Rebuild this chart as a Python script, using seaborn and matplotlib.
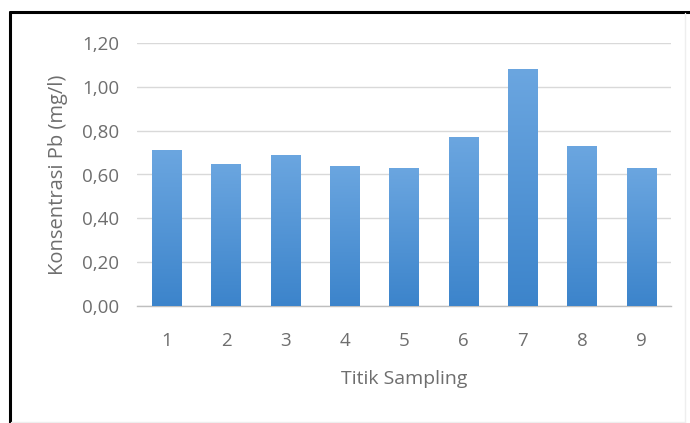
import numpy as np
import pandas as pd
import matplotlib
matplotlib.use("Agg")
import matplotlib.pyplot as plt
from matplotlib.lines import Line2D
from matplotlib.colors import LinearSegmentedColormap
import seaborn as sns

# Pb concentration per sampling point
titik = ["1", "2", "3", "4", "5", "6", "7", "8", "9"]
konsentrasi = [0.71, 0.65, 0.69, 0.64, 0.63, 0.77, 1.08, 0.73, 0.63]
yticks = [0.0, 0.2, 0.4, 0.6, 0.8, 1.0, 1.2]
ytick_labels = ["0,00", "0,20", "0,40", "0,60", "0,80", "1,00", "1,20"]

df = pd.DataFrame({"Titik Sampling": titik, "Konsentrasi": konsentrasi})

sns.set_style("white")
plt.rcParams["font.family"] = ["Open Sans", "DejaVu Sans"]

fig = plt.figure(figsize=(6.9, 4.23), dpi=100)
ax = fig.add_axes([137 / 690, 1 - 306 / 423, (671 - 137) / 690, (306 - 43) / 423])

sns.barplot(data=df, x="Titik Sampling", y="Konsentrasi", color="#5B9BD5",
            width=0.5, ax=ax, zorder=3)

# vertical gradient fill on each bar
grad = LinearSegmentedColormap.from_list("blu", ["#3C84CB", "#6BA6E0"])
gimg = np.linspace(0, 1, 256).reshape(-1, 1)
for p in ax.patches:
    x0, y0 = p.get_x(), p.get_y()
    w, h = p.get_width(), p.get_height()
    im = ax.imshow(gimg, cmap=grad, origin="lower", aspect="auto",
                   extent=[x0, x0 + w, y0, y0 + h], zorder=3.5)
    im.set_clip_path(p)
    p.set_edgecolor("none")

txt = "#6E6E6E"
ax.set_xlim(-0.5, 8.5)
ax.set_ylim(0, 1.2)
ax.set_yticks(yticks)
ax.set_yticklabels(ytick_labels)
ax.yaxis.grid(True, color="#D9D9D9", linewidth=1.0, zorder=0)
ax.set_axisbelow(True)
for s in ["top", "right", "left"]:
    ax.spines[s].set_visible(False)
ax.spines["bottom"].set_color("#BFBFBF")
ax.spines["bottom"].set_linewidth(1.0)
ax.tick_params(axis="both", length=0, colors=txt, labelsize=13.5)
ax.tick_params(axis="y", pad=13)
ax.tick_params(axis="x", pad=19)
ax.set_xlabel("Titik Sampling", fontsize=14, color=txt, labelpad=14)
ax.set_ylabel("Konsentrasi Pb (mg/l)", fontsize=14.5, color=txt, labelpad=10)

# outer frame: heavy top and left edges, faint right and bottom
fig.add_artist(Line2D([10 / 690, 690 / 690], [1 - 12 / 423, 1 - 12 / 423],
                      color="black", linewidth=2.2, transform=fig.transFigure))
fig.add_artist(Line2D([10 / 690, 10 / 690], [0, 1 - 12 / 423],
                      color="black", linewidth=2.2, transform=fig.transFigure))
fig.add_artist(Line2D([685 / 690, 685 / 690], [0, 1 - 13 / 423],
                      color="#EEEEEE", linewidth=1.0, transform=fig.transFigure))
fig.add_artist(Line2D([11 / 690, 685 / 690], [1.5 / 423, 1.5 / 423],
                      color="#EEEEEE", linewidth=1.0, transform=fig.transFigure))

fig.savefig("out.png", dpi=100)
